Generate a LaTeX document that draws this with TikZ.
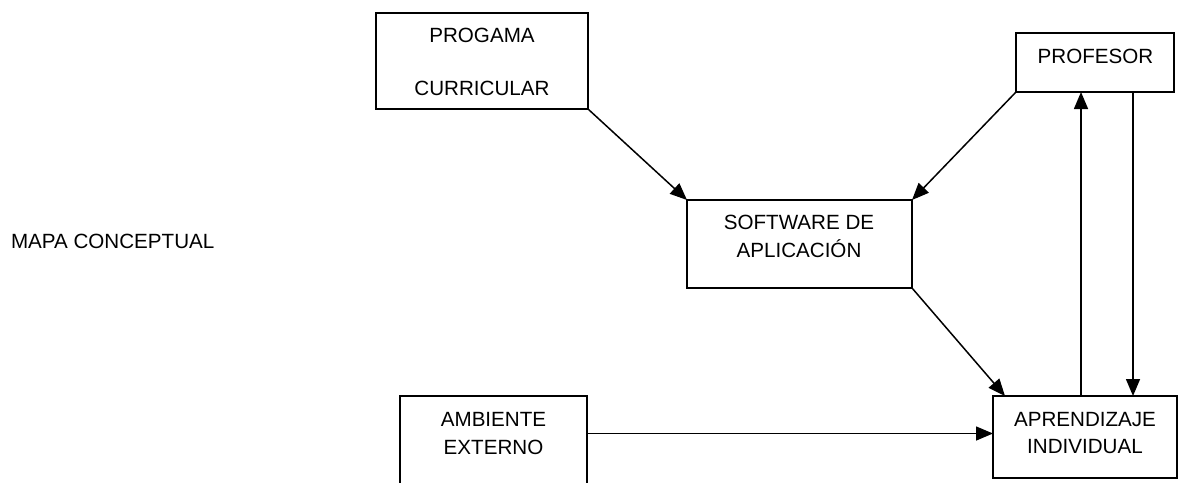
\documentclass[tikz,border=0pt]{standalone}
\usepackage{fontspec}
\setmainfont{Liberation Sans}
\usetikzlibrary{arrows.meta}
\tikzset{
  box/.style={draw, line width=1.8pt, rectangle, inner sep=0pt, outer sep=0pt},
  txt/.style={anchor=base, inner sep=0pt, outer sep=0pt, font=\fontsize{20.6}{24}\selectfont},
  arr/.style={line width=1.5pt, -{Triangle[length=17pt,width=14pt]}}
}
\begin{document}
\begin{tikzpicture}[x=1pt,y=-1pt]
\useasboundingbox (0,0) rectangle (1178,482);
% boxes
\node[box, minimum width=212pt, minimum height=96pt] (prog) at (482,61) {};
\node[box, minimum width=158pt, minimum height=59pt] (prof) at (1095,62.5) {};
\node[box, minimum width=225pt, minimum height=88pt] (soft) at (799.5,244) {};
\node[box, minimum width=187pt, minimum height=104pt] (amb) at (493.5,448) {};
\node[box, minimum width=184pt, minimum height=82pt] (apr) at (1085,437) {};
% texts
\node[txt] (t1) at (482,42.8) {PROGAMA};
\node[txt] (t2) at (482,95.3) {CURRICULAR};
\node[txt] (t3) at (1095.5,63.3) {PROFESOR};
\node[txt] (t4) at (799,229.3) {SOFTWARE DE};
\node[txt] (t5) at (799,257.3) {APLICACIÓN};
\node[txt] (t6) at (493.5,426.7) {AMBIENTE};
\node[txt] (t7) at (493.5,454) {EXTERNO};
\node[txt] (t8) at (1085,426.7) {APRENDIZAJE};
\node[txt] (t9) at (1085,453.3) {INDIVIDUAL};
\node[txt, anchor=base west] (title) at (11,248.3) {MAPA CONCEPTUAL};
% connectors
\draw[arr] (prog.south east) -- (soft.north west);
\draw[arr] (prof.south west) -- (soft.north east);
\draw[arr] (soft.south east) -- ([xshift=12pt]apr.north west);
\path ([xshift=-4pt]apr.north) coordinate (upbot);
\path ([xshift=48pt]apr.north) coordinate (dnbot);
\draw[arr] (upbot) -- (upbot |- prof.south);
\draw[arr] (dnbot |- prof.south) -- (dnbot);
\path ([yshift=3.5pt]apr.west) coordinate (aprw);
\draw[arr] (amb.east |- aprw) -- (aprw);
\end{tikzpicture}
\end{document}
